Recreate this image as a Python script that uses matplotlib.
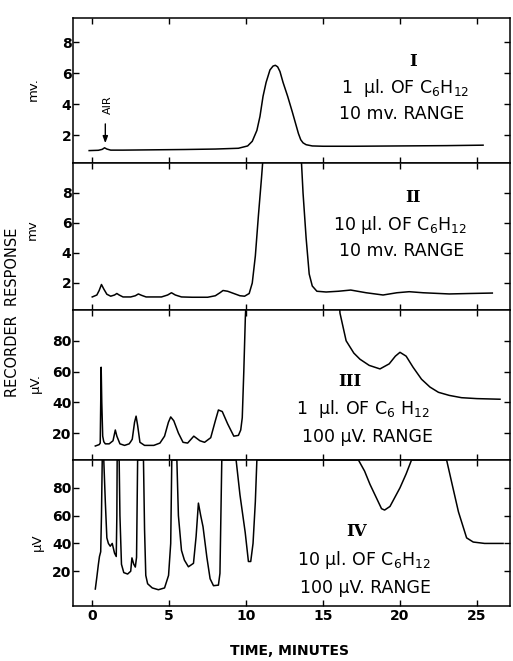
import matplotlib
matplotlib.use("Agg")
import matplotlib.pyplot as plt

plt.rcParams['font.family'] = ['DejaVu Sans']
plt.rcParams['mathtext.fontset'] = 'dejavusans'

# ---------------- data (time in minutes, recorder response) ----------------
t1 = [-0.2, 0.4, 0.65, 0.8, 0.95, 1.2, 2, 4, 6, 8, 9.5, 10.1, 10.4, 10.7, 10.9, 11.1,
      11.3, 11.55, 11.75, 11.9, 12.05, 12.2, 12.4, 12.7, 13.0, 13.2, 13.4, 13.55, 13.7,
      13.9, 14.3, 15, 17, 20, 23, 25.4]
v1 = [1.0, 1.02, 1.08, 1.18, 1.1, 1.03, 1.03, 1.05, 1.07, 1.1, 1.15, 1.3, 1.6, 2.3, 3.2,
      4.5, 5.4, 6.2, 6.45, 6.5, 6.4, 6.1, 5.4, 4.5, 3.5, 2.8, 2.1, 1.7, 1.5, 1.38, 1.3,
      1.28, 1.28, 1.3, 1.32, 1.35]

t2 = [0.0, 0.3, 0.45, 0.6, 0.75, 0.95, 1.2, 1.45, 1.6, 1.75, 2.0, 2.5, 2.8, 3.0, 3.2, 3.5,
      4.5, 4.9, 5.15, 5.4, 5.8, 6.5, 7.5, 8.0, 8.3, 8.5, 8.8, 9.2, 9.6, 9.9, 10.2, 10.4,
      10.6, 10.8, 11.0, 11.15, 12.3, 13.55, 13.7, 13.9, 14.1, 14.3, 14.6, 15.2, 16.0, 16.8,
      17.8, 18.9, 19.8, 20.6, 21.5, 23.2, 24.5, 26.0]
v2 = [1.07, 1.2, 1.5, 1.9, 1.6, 1.25, 1.12, 1.2, 1.3, 1.2, 1.07, 1.07, 1.15, 1.27, 1.18,
      1.07, 1.07, 1.2, 1.35, 1.2, 1.07, 1.05, 1.05, 1.15, 1.35, 1.5, 1.45, 1.3, 1.15, 1.12,
      1.3, 2.0, 3.8, 6.5, 9.0, 11.0, 16.0, 11.0, 8.0, 5.0, 2.6, 1.8, 1.45, 1.4, 1.45, 1.53,
      1.35, 1.2, 1.35, 1.42, 1.35, 1.27, 1.3, 1.33]

t3 = [0.2, 0.45, 0.52, 0.58, 0.62, 0.68, 0.75, 0.85, 1.1, 1.35, 1.5, 1.6, 1.8, 2.1, 2.4,
      2.5, 2.6, 2.75, 2.85, 2.95, 3.1, 3.4, 4.0, 4.4, 4.7, 4.95, 5.1, 5.3, 5.6, 5.9, 6.2,
      6.6, 7.0, 7.3, 7.7, 8.0, 8.2, 8.45, 8.8, 9.2, 9.5, 9.65, 9.75, 9.85, 9.95, 10.1,
      15.9, 16.1, 16.5, 17.0, 17.4, 18.0, 18.7, 19.3, 19.7, 20.0, 20.4, 20.85, 21.4, 21.95,
      22.5, 23.2, 24.0, 25.0, 26.5]
v3 = [11.6, 12.5, 13.5, 62.8, 40, 18, 14.4, 13, 13, 15, 22, 18, 13, 12, 13, 14.4, 16, 27,
      31, 25, 14, 12, 12, 13.5, 18, 27, 30.5, 28, 20, 14, 13.5, 18, 15, 14, 17, 28, 35, 34,
      26, 18, 18.5, 22, 30, 60, 95, 130, 130, 98, 80, 72, 68, 64, 61.7, 65, 70, 72.5, 70,
      62.8, 55, 49.9, 46.5, 44.5, 43, 42.4, 42]

t4 = [0.2, 0.3, 0.4, 0.47, 0.55, 0.6, 0.65, 0.75, 0.85, 0.95, 1.05, 1.17, 1.3, 1.45, 1.56,
      1.6, 1.62, 1.75, 1.8, 1.9, 2.05, 2.3, 2.5, 2.58, 2.7, 2.8, 2.88, 2.95, 3.33, 3.4,
      3.48, 3.6, 3.9, 4.3, 4.7, 4.96, 5.1, 5.17, 5.5, 5.6, 5.8, 5.99, 6.25, 6.58, 6.75,
      6.9, 7.05, 7.2, 7.45, 7.66, 7.88, 8.2, 8.3, 8.42, 9.35, 9.6, 9.94, 10.15, 10.3,
      10.45, 10.6, 10.7, 17.3, 17.7, 18.05, 18.5, 18.8, 19.0, 19.35, 20.0, 20.4, 20.75,
      23.03, 23.4, 23.8, 24.33, 24.76, 25.5, 26.7]
v4 = [7.2, 15.8, 25, 30.6, 34, 60, 100, 100, 70, 44, 40, 38, 40, 33, 30.6, 60, 100, 100,
      60, 25, 19, 18, 20, 29.6, 25, 23, 30, 100, 100, 50, 17, 11, 8, 6.7, 8, 17, 40, 100,
      100, 60, 35, 28, 23.2, 25.7, 45, 69, 60, 52, 30, 14.6, 9.6, 10, 18.5, 100, 100, 75,
      48, 27, 27, 40, 70, 100, 100, 92, 82.5, 72, 65, 64, 66.6, 80, 90, 100, 100, 82, 62.7,
      44, 41, 40, 40]

x_ticks = [0, 5, 10, 15, 20, 25]
y_ticks_mv = [2, 4, 6, 8]
y_ticks_uv = [20, 40, 60, 80]

numerals = ["I", "II", "III", "IV"]
line2 = ["1  µl. OF C$_6$H$_{12}$", "10 µl. OF C$_6$H$_{12}$",
         "1  µl. OF C$_6$ H$_{12}$", "10 µl. OF C$_6$H$_{12}$"]
line3 = ["10 mv. RANGE", "10 mv. RANGE", "100 µV. RANGE", "100 µV. RANGE"]
units = ["mv.", "mv", "µV.", "µV"]

# ---------------- figure ----------------
W, H = 513, 661
fig = plt.figure(figsize=(W / 100, H / 100), dpi=100)
gs = fig.add_gridspec(4, 1, height_ratios=[145, 147, 150, 146], hspace=0,
                      left=73 / W, right=510 / W, top=1 - 18 / H, bottom=1 - 606 / H)
axes = [fig.add_subplot(gs[i]) for i in range(4)]

series = [(t1, v1), (t2, v2), (t3, v3), (t4, v4)]
ylims = [(0.2, 9.55), (0.2, 10.0), (2.5, 100), (-5, 100)]
yticks = [y_ticks_mv, y_ticks_mv, y_ticks_uv, y_ticks_uv]

for i, ax in enumerate(axes):
    t, v = series[i]
    ax.plot(t, v, color='black', lw=1.1)
    ax.set_xlim(-1.25, 27.15)
    ax.set_ylim(*ylims[i])
    ax.set_xticks(x_ticks)
    ax.set_yticks(yticks[i])
    ax.tick_params(direction='in', length=4, width=1, top=True, right=True,
                   labelsize=10, pad=2, colors='black')
    ax.tick_params(axis='y', pad=1)
    if i < 3:
        ax.tick_params(labelbottom=False)
    for lbl in ax.get_xticklabels() + ax.get_yticklabels():
        lbl.set_fontweight('bold')
    for s in ax.spines.values():
        s.set_linewidth(1.1)

# AIR marker
axes[0].annotate('', xy=(0.85, 1.3), xytext=(0.85, 2.9),
                 arrowprops=dict(arrowstyle='-|>,head_length=0.4,head_width=0.15',
                                 color='black', lw=1.0))
axes[0].text(1.05, 3.95, 'AIR', rotation=90, ha='center', va='center', fontsize=8)

# panel annotations (pixel positions)
num_pos = [(413, 61), (413, 198), (350, 381), (357, 531)]
l2_pos = [(405, 88), (400, 225), (363, 409), (364, 560)]
l3_pos = [(402, 114), (402, 251), (367, 437), (366, 588)]
for i in range(4):
    x, y = num_pos[i]
    fig.text(x / W, 1 - y / H, numerals[i], ha='center', va='center', fontsize=12,
             family='DejaVu Serif', weight='bold')
    x, y = l2_pos[i]
    fig.text(x / W, 1 - y / H, line2[i], ha='center', va='center', fontsize=12.5)
    x, y = l3_pos[i]
    fig.text(x / W, 1 - y / H, line3[i], ha='center', va='center', fontsize=12.5)

unit_pos = [(33, 89), (32, 230), (35, 383), (37, 542)]
for i in range(4):
    x, y = unit_pos[i]
    fig.text(x / W, 1 - y / H, units[i], rotation=90, ha='center', va='center',
             fontsize=9.5)

fig.text(13 / W, 1 - 312 / H, 'RECORDER  RESPONSE', rotation=90, ha='center',
         va='center', fontsize=10.5)
fig.text(290 / W, 1 - 651 / H, 'TIME, MINUTES', ha='center', va='center',
         fontsize=10, weight='bold')

fig.savefig('out.png', dpi=100)
